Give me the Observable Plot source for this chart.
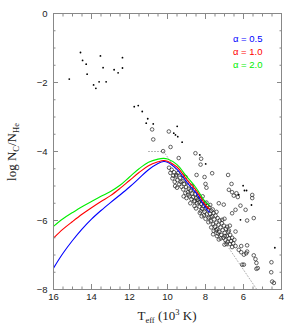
<!DOCTYPE html>
<html><head><meta charset="utf-8">
<script src="https://cdn.jsdelivr.net/npm/d3@7"></script>
<script src="https://cdn.jsdelivr.net/npm/@observablehq/plot@0.6"></script>
<style>body{margin:0;background:#fff}svg{display:block}</style>
</head><body><div id="chart"></div>
<script>
// Model curves (alpha = 0.5, 1.0, 2.0)
const curveT   = [16, 15.5, 15, 14.5, 14, 13.5, 13, 12.5, 12, 11.5, 11, 10.5, 10.2, 10, 9.5, 9, 8.5, 8, 7.8];
const alpha05  = [-7.38, -6.95, -6.58, -6.25, -5.96, -5.71, -5.48, -5.26, -5.03, -4.78, -4.53, -4.35, -4.29, -4.31, -4.52, -4.88, -5.2, -5.63, -5.76];
const alpha10  = [-6.51, -6.25, -6.03, -5.82, -5.63, -5.45, -5.28, -5.07, -4.84, -4.61, -4.41, -4.3, -4.26, -4.28, -4.45, -4.8, -5.12, -5.55, -5.66];
const alpha20  = [-6.17, -5.95, -5.77, -5.6, -5.45, -5.3, -5.16, -4.98, -4.74, -4.5, -4.31, -4.22, -4.2, -4.22, -4.38, -4.72, -5.05, -5.47, -5.56];
const seriesNames  = ["α = 0.5", "α = 1.0", "α = 2.0"];
const seriesColors = ["#0000ff", "#ff0000", "#00ee00"];

// Dotted reference line
const dottedT = [11.0, 10.2, 5.3];
const dottedY = [-4.0, -4.0, -8.0];

// Small filled dots
const dotT = [15.17, 14.58, 14.47, 14.28, 14.23, 13.89, 13.77, 13.6, 13.53, 13.39, 13.23, 12.81, 12.6, 12.37, 12.37, 11.75, 11.54, 11.33, 11.04, 11.12, 10.75, 9.49, 9.67, 9.58, 9.46, 9.23, 8.3, 7.99, 6.02, 5.95, 5.84, 6.25, 5.58, 6.16, 4.35];
const dotY = [-1.9, -1.13, -1.36, -1.47, -1.76, -2.07, -2.17, -1.98, -1.23, -1.57, -1.98, -1.63, -1.72, -1.58, -1.28, -2.7, -2.67, -2.84, -3.05, -3.18, -3.2, -3.27, -3.47, -3.52, -3.57, -3.73, -4.1, -4.36, -4.99, -5.13, -5.13, -5.25, -5.55, -5.98, -6.79];

// Open circles
const circleT = [
  10.81, 10.75, 9.93, 9.84, 10.23, 9.41, 8.53, 8.26, 8.23, 7.65, 8.47, 9.53, 9.05, 6.81, 6.63, 6.77, 6.6, 6.51, 6.37, 6.16, 5.89, 6.42, 6.6, 5.81, 5.46, 7.3, 7.04, 8.05, 8.0, 7.95, 6.3, 5.54, 5.54,
  6.42, 6.77, 6.12, 5.81, 5.81, 5.86, 6.07, 5.98, 5.46, 5.37, 5.32, 5.32, 5.25, 4.53, 4.54, 4.49, 4.4, 6.42, 6.25, 6.12, 5.98, 6.72, 6.6,
  9.92, 9.85, 9.78, 9.74, 9.66, 9.62, 9.55, 9.48, 9.44, 9.38, 9.33, 9.27, 9.21, 9.17, 9.12, 9.06, 9.02, 8.96, 8.93, 8.88, 8.84, 8.79, 8.74, 8.7, 8.66, 8.61, 8.57, 8.53, 8.48, 8.44, 8.39, 8.35, 8.31, 8.27, 8.22, 8.18, 8.14, 8.1, 8.05, 8.02, 7.98, 7.94, 7.9, 7.87, 7.83, 7.8, 7.76, 7.72, 7.69, 7.65, 7.61, 7.58, 7.54, 7.5, 7.47, 7.43, 7.39, 7.36, 7.32, 7.28, 7.25, 7.21, 7.17, 7.14, 7.1, 7.06, 7.03, 6.99, 6.95, 6.92, 6.88, 6.84, 6.8, 6.76, 6.7, 6.66, 6.6, 6.54, 6.48,
  9.7, 9.3, 8.9, 8.6, 8.4, 8.25, 8.08, 7.95, 7.73, 7.62, 7.45, 7.35, 7.2, 7.12, 6.98, 6.86, 8.58, 8.3, 7.85, 7.57, 7.4, 6.9, 9.5, 9.15, 8.8, 8.2, 7.7,
  9.6, 9.0, 8.5, 8.0, 7.6, 7.3, 7.0, 9.2, 8.72, 8.15, 7.75, 7.42, 7.0, 6.72
];
const circleY = [
  -3.36, -3.65, -3.42, -3.87, -3.99, -4.19, -4.05, -4.38, -4.21, -4.63, -4.68, -4.68, -4.74, -4.68, -4.94, -5.11, -5.18, -5.28, -5.21, -5.57, -5.69, -5.69, -5.79, -6.0, -5.93, -5.5, -5.54, -4.74, -4.94, -5.05, -5.32, -5.26, -5.35,
  -6.32, -6.29, -6.74, -6.72, -6.9, -6.95, -7.28, -7.28, -7.01, -7.12, -7.23, -7.4, -7.38, -7.21, -7.5, -7.77, -7.81, -6.74, -6.85, -6.92, -6.99, -6.68, -6.77,
  -4.47, -4.62, -4.53, -4.78, -4.6, -4.88, -4.72, -4.83, -4.62, -4.95, -4.76, -5.02, -4.86, -5.1, -4.94, -5.2, -5.03, -4.9, -5.18, -5.08, -5.3, -5.13, -5.38, -5.22, -5.32, -5.12, -5.43, -5.23, -5.35, -5.5, -5.29, -5.47, -5.6, -5.38, -5.52, -5.66, -5.45, -5.58, -5.75, -5.5, -5.64, -5.82, -5.58, -5.7, -5.92, -5.62, -5.8, -6.02, -5.72, -5.88, -6.1, -5.78, -5.97, -6.18, -5.86, -6.06, -6.25, -5.93, -6.12, -6.33, -6.0, -6.2, -6.42, -6.08, -6.28, -6.5, -6.15, -6.36, -6.57, -6.24, -6.45, -6.62, -6.33, -6.52, -6.42, -6.6, -6.5, -6.66, -6.56,
  -4.7, -4.88, -5.25, -5.45, -5.4, -5.73, -5.85, -5.48, -5.9, -5.68, -6.28, -6.38, -6.52, -5.98, -6.45, -6.18, -5.58, -5.78, -6.05, -6.3, -6.45, -6.68, -5.05, -5.3, -5.5, -5.88, -6.2,
  -5.0, -5.35, -5.65, -5.95, -6.4, -6.55, -6.7, -4.7, -5.0, -5.3, -5.55, -5.75, -5.95, -6.15
];

// Axis ticks
const xLabels = [16, 14, 12, 10, 8, 6, 4];
const yLabels = [0, -2, -4, -6, -8];
const xMinor = [16, 15.5, 15, 14.5, 14, 13.5, 13, 12.5, 12, 11.5, 11, 10.5, 10, 9.5, 9, 8.5, 8, 7.5, 7, 6.5, 6, 5.5, 5, 4.5, 4];
const yMinor = [0, -0.5, -1, -1.5, -2, -2.5, -3, -3.5, -4, -4.5, -5, -5.5, -6, -6.5, -7, -7.5, -8];

const curves = [];
[alpha05, alpha10, alpha20].forEach((ys, k) => curveT.forEach((t, i) => curves.push({t, v: ys[i], s: seriesNames[k]})));
const dotted = dottedT.map((t, i) => ({t, v: dottedY[i]}));
const dots = dotT.map((t, i) => ({t, v: dotY[i]}));
const circles = circleT.map((t, i) => ({t, v: circleY[i]}));

const tk = {stroke: "#888", strokeWidth: 1, tickFormat: () => "", label: null};
const minorLen = 2.5, majorLen = 5;

const plot = Plot.plot({
  width: 299, height: 330,
  marginLeft: 53, marginRight: 18, marginTop: 13, marginBottom: 41,
  style: {fontFamily: "Liberation Sans, Arial, sans-serif", fontSize: "9.5px", background: "#fff"},
  x: {domain: [16, 4]},
  y: {domain: [-8, 0]},
  color: {domain: seriesNames, range: seriesColors},
  marks: [
    Plot.line(dotted, {x: "t", y: "v", stroke: "#999", strokeWidth: 0.8, strokeDasharray: "1,2"}),
    Plot.dot(circles, {x: "t", y: "v", r: 1.8, stroke: "#222", strokeWidth: 0.7, fill: "none"}),
    Plot.dot(dots, {x: "t", y: "v", r: 0.9, fill: "#000", stroke: "none"}),
    Plot.line(curves, {x: "t", y: "v", z: "s", stroke: "s", strokeWidth: 1.1, curve: "catmull-rom"}),
    Plot.frame({stroke: "#888", strokeWidth: 1}),
    Plot.axisX(xMinor, {anchor: "bottom", tickSize: minorLen, dy: -minorLen, ...tk}),
    Plot.axisX(xLabels, {anchor: "bottom", tickSize: majorLen, dy: -majorLen, ...tk}),
    Plot.axisX(xMinor, {anchor: "top", tickSize: minorLen, dy: minorLen, ...tk}),
    Plot.axisX(xLabels, {anchor: "top", tickSize: majorLen, dy: majorLen, ...tk}),
    Plot.axisY(yMinor, {anchor: "left", tickSize: minorLen, dx: minorLen, ...tk}),
    Plot.axisY(yLabels, {anchor: "left", tickSize: majorLen, dx: majorLen, ...tk}),
    Plot.axisY(yMinor, {anchor: "right", tickSize: minorLen, dx: -minorLen, ...tk}),
    Plot.axisY(yLabels, {anchor: "right", tickSize: majorLen, dx: -majorLen, ...tk}),
    Plot.axisX(xLabels, {anchor: "bottom", tickSize: 0, tickPadding: 4, label: null, fill: "#222"}),
    Plot.axisY(yLabels, {anchor: "left", tickSize: 0, tickPadding: 6, label: null, fill: "#222"}),
    ...seriesNames.map((name, k) => Plot.text([name], {
      text: d => d, frameAnchor: "top-right", dx: -19, dy: 22 + k * 12.7,
      textAnchor: "end", fill: seriesColors[k], fontSize: 9.5
    }))
  ]
});

const svg = d3.select(plot);
const xt = svg.append("text")
  .attr("x", 167).attr("y", 320).attr("text-anchor", "middle")
  .attr("font-family", "Liberation Serif, Times New Roman, serif").attr("font-size", 13).attr("fill", "#222");
xt.append("tspan").text("T");
xt.append("tspan").attr("dy", 3).attr("font-size", 8.5).text("eff");
xt.append("tspan").attr("dy", -3).text(" (10");
xt.append("tspan").attr("dy", -5).attr("font-size", 8.5).text("3");
xt.append("tspan").attr("dy", 5).text(" K)");

const yt = svg.append("text")
  .attr("transform", "translate(16,152) rotate(-90)").attr("text-anchor", "middle")
  .attr("font-family", "Liberation Serif, Times New Roman, serif").attr("font-size", 13).attr("fill", "#222");
yt.append("tspan").text("log N");
yt.append("tspan").attr("dy", 3).attr("font-size", 8.5).text("C");
yt.append("tspan").attr("dy", -3).text("/N");
yt.append("tspan").attr("dy", 3).attr("font-size", 8.5).text("He");

document.getElementById("chart").appendChild(plot);
</script>
</body></html>
